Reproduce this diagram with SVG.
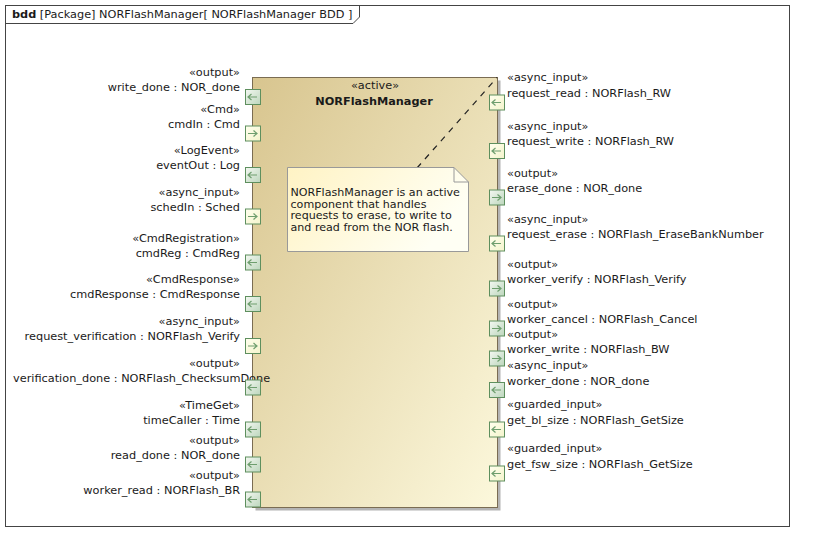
<svg xmlns="http://www.w3.org/2000/svg" width="814" height="552" viewBox="0 0 814 552">
<style>
text{font-family:"DejaVu Sans","Verdana",sans-serif;font-size:11.3px;fill:#1a1a1a}
.l{text-anchor:end}
.b{font-weight:bold}
.n{font-size:11.1px}
.po{fill:url(#gOut);stroke:#5e8f5e;stroke-width:1}
.pi{fill:url(#gIn);stroke:#5e8f5e;stroke-width:1}
.ar{fill:none;stroke:#6e9e6e;stroke-width:1.2}
</style>
<defs>
<linearGradient id="gBlock" x1="0" y1="0" x2="1" y2="1">
<stop offset="0" stop-color="#d8c58f"/>
<stop offset="1" stop-color="#fcf8dc"/>
</linearGradient>
<linearGradient id="gNote" x1="0" y1="0" x2="1" y2="0.4">
<stop offset="0" stop-color="#fff3c4"/>
<stop offset="1" stop-color="#fffff4"/>
</linearGradient>
<linearGradient id="gOut" x1="0" y1="0" x2="1" y2="1">
<stop offset="0" stop-color="#f4f8f2"/>
<stop offset="1" stop-color="#bcd6bc"/>
</linearGradient>
<linearGradient id="gIn" x1="0" y1="0" x2="1" y2="1">
<stop offset="0" stop-color="#ffffee"/>
<stop offset="1" stop-color="#f4f4cc"/>
</linearGradient>
<path id="aL" d="M3,7.5 H12 M6.5,4.5 L3,7.5 L6.5,10.5" class="ar"/>
<path id="aR" d="M3,7.5 H12 M8.5,4.5 L12,7.5 L8.5,10.5" class="ar"/>
</defs>
<rect width="814" height="552" fill="#fff"/>
<g id="frame">
<rect x="5.5" y="5.5" width="784" height="521" fill="#fff" stroke="#444" stroke-width="1"/>
<path d="M5.5,23.5 H353 L359.5,17 V5.5" fill="none" stroke="#444" stroke-width="1"/>
<text x="12" y="18"><tspan class="b">bdd</tspan> [Package] NORFlashManager[ NORFlashManager BDD ]</text>
</g>
<g id="NORFlashManager">
<rect x="255.5" y="80.5" width="245" height="430" fill="#b4b4b4"/>
<rect x="252.5" y="77.5" width="245" height="430" fill="url(#gBlock)" stroke="#7a6c52" stroke-width="1"/>
<text x="375" y="89" text-anchor="middle">«active»</text>
<text x="374" y="105" text-anchor="middle" class="b">NORFlashManager</text>
</g>
<g id="connectors">
<path d="M417,168 L497,77.5" fill="none" stroke="#222" stroke-width="1.2" stroke-dasharray="6,6"/>
</g>
<g id="note">
<path d="M287.5,167.5 H454 L468.5,182 V251.5 H287.5 Z" fill="url(#gNote)" stroke="#999" stroke-width="1"/>
<path d="M454,167.5 V182 H468.5" fill="none" stroke="#999" stroke-width="1"/>
<text class="n" x="290.5" y="196">NORFlashManager is an active</text>
<text class="n" x="290.5" y="207.5">component that handles</text>
<text class="n" x="290.5" y="219">requests to erase, to write to</text>
<text class="n" x="290.5" y="230.5">and read from the NOR flash.</text>
</g>
<g id="port_write_done"><text class="l" x="240" y="76">«output»</text><text class="l" x="240" y="91">write_done : NOR_done</text><g transform="translate(245,89.5)"><rect class="po" x="0.5" y="0" width="15" height="15"/><use href="#aL"/></g></g>
<g id="port_cmdIn"><text class="l" x="240" y="112.5">«Cmd»</text><text class="l" x="240" y="127.5">cmdIn : Cmd</text><g transform="translate(245,126)"><rect class="pi" x="0.5" y="0" width="15" height="15"/><use href="#aR"/></g></g>
<g id="port_eventOut"><text class="l" x="240" y="154">«LogEvent»</text><text class="l" x="240" y="169">eventOut : Log</text><g transform="translate(245,167.5)"><rect class="po" x="0.5" y="0" width="15" height="15"/><use href="#aL"/></g></g>
<g id="port_schedIn"><text class="l" x="240" y="195.5">«async_input»</text><text class="l" x="240" y="210.5">schedIn : Sched</text><g transform="translate(245,209)"><rect class="pi" x="0.5" y="0" width="15" height="15"/><use href="#aR"/></g></g>
<g id="port_cmdReg"><text class="l" x="240" y="241.5">«CmdRegistration»</text><text class="l" x="240" y="256.5">cmdReg : CmdReg</text><g transform="translate(245,255)"><rect class="po" x="0.5" y="0" width="15" height="15"/><use href="#aL"/></g></g>
<g id="port_cmdResponse"><text class="l" x="240" y="283">«CmdResponse»</text><text class="l" x="240" y="298">cmdResponse : CmdResponse</text><g transform="translate(245,296.5)"><rect class="po" x="0.5" y="0" width="15" height="15"/><use href="#aL"/></g></g>
<g id="port_request_verification"><text class="l" x="240" y="325">«async_input»</text><text class="l" x="240" y="340">request_verification : NORFlash_Verify</text><g transform="translate(245,338.5)"><rect class="pi" x="0.5" y="0" width="15" height="15"/><use href="#aR"/></g></g>
<g id="port_verification_done"><text class="l" x="240" y="366.5">«output»</text><text x="13" y="381.5">verification_done : NORFlash_ChecksumDone</text><g transform="translate(245,380)"><rect class="po" x="0.5" y="0" width="15" height="15"/><use href="#aL"/></g></g>
<g id="port_timeCaller"><text class="l" x="240" y="408.5">«TimeGet»</text><text class="l" x="240" y="423.5">timeCaller : Time</text><g transform="translate(245,422)"><rect class="po" x="0.5" y="0" width="15" height="15"/><use href="#aL"/></g></g>
<g id="port_read_done"><text class="l" x="240" y="443.5">«output»</text><text class="l" x="240" y="458.5">read_done : NOR_done</text><g transform="translate(245,457)"><rect class="po" x="0.5" y="0" width="15" height="15"/><use href="#aL"/></g></g>
<g id="port_worker_read"><text class="l" x="240" y="478.5">«output»</text><text class="l" x="240" y="493.5">worker_read : NORFlash_BR</text><g transform="translate(245,492)"><rect class="po" x="0.5" y="0" width="15" height="15"/><use href="#aL"/></g></g>
<g id="port_request_read"><text x="507" y="81">«async_input»</text><text x="507" y="96.5">request_read : NORFlash_RW</text><g transform="translate(489,95)"><rect class="pi" x="0.5" y="0" width="15" height="15"/><use href="#aL"/></g></g>
<g id="port_request_write"><text x="507" y="130">«async_input»</text><text x="507" y="145">request_write : NORFlash_RW</text><g transform="translate(489,143.5)"><rect class="pi" x="0.5" y="0" width="15" height="15"/><use href="#aL"/></g></g>
<g id="port_erase_done"><text x="507" y="176.5">«output»</text><text x="507" y="191.5">erase_done : NOR_done</text><g transform="translate(489,190)"><rect class="po" x="0.5" y="0" width="15" height="15"/><use href="#aR"/></g></g>
<g id="port_request_erase"><text x="507" y="222.5">«async_input»</text><text x="507" y="237.5">request_erase : NORFlash_EraseBankNumber</text><g transform="translate(489,236)"><rect class="pi" x="0.5" y="0" width="15" height="15"/><use href="#aL"/></g></g>
<g id="port_worker_verify"><text x="507" y="267.5">«output»</text><text x="507" y="282.5">worker_verify : NORFlash_Verify</text><g transform="translate(489,281)"><rect class="po" x="0.5" y="0" width="15" height="15"/><use href="#aR"/></g></g>
<g id="port_worker_cancel"><text x="507" y="307.5">«output»</text><text x="507" y="322.5">worker_cancel : NORFlash_Cancel</text><g transform="translate(489,321)"><rect class="po" x="0.5" y="0" width="15" height="15"/><use href="#aR"/></g></g>
<g id="port_worker_write"><text x="507" y="338">«output»</text><text x="507" y="353">worker_write : NORFlash_BW</text><g transform="translate(489,351)"><rect class="po" x="0.5" y="0" width="15" height="15"/><use href="#aR"/></g></g>
<g id="port_worker_done"><text x="507" y="369">«async_input»</text><text x="507" y="384.5">worker_done : NOR_done</text><g transform="translate(489,382.5)"><rect class="po" x="0.5" y="0" width="15" height="15"/><use href="#aL"/></g></g>
<g id="port_get_bl_size"><text x="507" y="408">«guarded_input»</text><text x="507" y="423.5">get_bl_size : NORFlash_GetSize</text><g transform="translate(489,422)"><rect class="pi" x="0.5" y="0" width="15" height="15"/><use href="#aL"/></g></g>
<g id="port_get_fsw_size"><text x="507" y="452">«guarded_input»</text><text x="507" y="467.5">get_fsw_size : NORFlash_GetSize</text><g transform="translate(489,466)"><rect class="pi" x="0.5" y="0" width="15" height="15"/><use href="#aL"/></g></g>
</svg>
